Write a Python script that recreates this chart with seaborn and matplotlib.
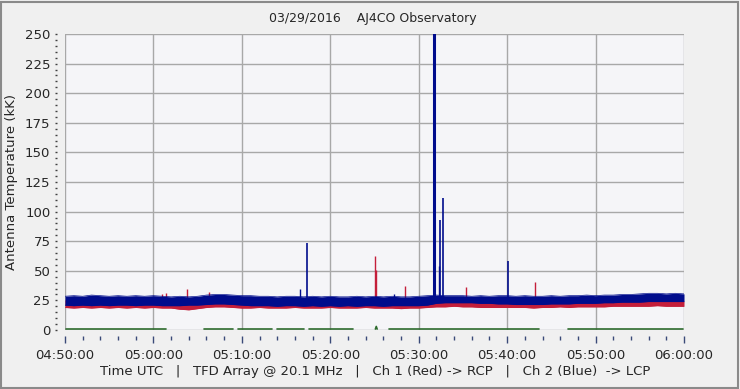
import numpy as np
import pandas as pd
import matplotlib
matplotlib.use("Agg")
import matplotlib.pyplot as plt
import seaborn as sns
from matplotlib.ticker import MultipleLocator, FixedLocator, FixedFormatter
from matplotlib.patches import Rectangle

# ---------------- data (minutes after 04:50:00 UTC) ----------------
minutes = list(range(71))

blue_hi = [28.5, 29, 28.5, 29.5, 29, 28.5, 29, 28.5, 29, 28.5,
           29, 28.5, 28, 28.5, 28, 28.5, 29.5, 30, 30, 29.5,
           29, 29, 28.5, 28.5, 28, 28.5, 28.5, 28, 28.5, 28,
           28.5, 28, 28, 28.5, 28, 28.5, 28, 28.5, 28, 28,
           28.5, 29, 29.5, 29, 29, 29, 28.5, 29, 28.5, 29,
           29, 28.5, 29, 28.5, 28.5, 29, 28.5, 29, 29, 29.5,
           29, 29.5, 29.5, 30, 30, 30.5, 31, 31, 30.5, 31,
           30.5]
blue_lo = [21, 20.5, 21, 20.5, 21, 20.5, 21, 21, 20.5, 21,
           21, 20.5, 20.5, 20.5, 21, 21, 21.5, 22, 22, 21.5,
           21, 20.5, 20.5, 20.5, 20, 20.5, 20.5, 20, 20.5, 20,
           20.5, 20, 20.5, 20, 20.5, 20.5, 20, 20.5, 20.5, 20.5,
           20.5, 21, 22.5, 23, 23, 23, 23, 22.5, 22.5, 22,
           22, 21.5, 21.5, 21.5, 21.5, 22, 22, 22, 22.5, 22.5,
           22.5, 23, 23, 23.5, 23.5, 23.5, 24, 24, 24, 24,
           24]
red_hi = [24.5, 24, 24.5, 24, 24.5, 24, 24.5, 24, 24.5, 24,
          24.5, 24, 24, 23.5, 23.5, 24, 24.5, 25, 25, 24.5,
          24, 24, 24.5, 24, 24, 24, 24.5, 24, 24, 24,
          24.5, 24, 24, 24, 24.5, 24, 24, 24, 23.5, 24,
          24, 24, 23.5, 23.5, 24, 23.5, 23.5, 23.5, 23.5, 23.5,
          23.5, 23.5, 23.5, 23, 23.5, 23.5, 24, 23.5, 24, 24,
          24, 24, 24.5, 24.5, 24.5, 24.5, 24.5, 25, 24.5, 24.5,
          24.5]
red_lo = [19, 18.5, 19, 18.5, 19, 18.5, 19, 18.5, 19, 18.5,
          19, 18.5, 18.5, 17.5, 17, 18, 19, 19.5, 19.5, 19,
          18.5, 18.5, 19, 18.5, 18.5, 18.5, 19, 18.5, 18.5, 18.5,
          19, 18.5, 18.5, 18.5, 19, 18.5, 18.5, 18.5, 18, 18.5,
          18.5, 19, 19.5, 19.5, 20, 19.5, 19.5, 19, 19, 19,
          19, 19, 19, 18.5, 19, 19, 19.5, 19, 19.5, 19.5,
          19.5, 19.5, 20, 20, 20, 20, 20, 20.5, 20, 20,
          20]

# isolated spikes (time in minutes after 04:50, peak in kK)
blue_spike_t = [26.6, 27.33, 37.2, 41.69, 41.84, 42.33, 42.44, 42.78, 50.13]
blue_spike_v = [35, 73.5, 30, 260, 67.5, 54, 93, 111.5, 58.5]
red_spike_t = [10.94, 11.46, 13.83, 16.32, 35.09, 35.2, 38.48, 45.38, 53.18]
red_spike_v = [30.4, 31.5, 34.6, 32.4, 62.5, 50.7, 37, 36, 40.3]

# channel 3 (green) segments near zero
green_start = [0.1, 15.7, 19.6, 24.0, 27.6, 35.1, 36.6, 56.9]
green_end = [11.4, 19.0, 23.4, 27.0, 32.6, 35.3, 53.6, 69.9]
green_level = [0.8, 0.8, 0.8, 0.8, 0.8, 3.0, 0.8, 0.8]

x_tick_labels = ["04:50:00", "05:00:00", "05:10:00", "05:20:00",
                 "05:30:00", "05:40:00", "05:50:00", "06:00:00"]
title = "03/29/2016    AJ4CO Observatory"
ylabel = "Antenna Temperature (kK)"
footer = "Time UTC   |   TFD Array @ 20.1 MHz   |   Ch 1 (Red) -> RCP   |   Ch 2 (Blue)  -> LCP"

# ---------------- styling ----------------
BLUE = "#000C8C"
RED = "#C41E3A"
GREEN = "#2E6B2E"
GRID = "#A8A8A8"
FIG_BG = "#F0F0F0"
AX_BG = "#F5F5F8"

sns.set_style("white")
plt.rcParams['font.family'] = ['DejaVu Sans']
FS = 9.5

fig = plt.figure(figsize=(7.4, 3.89), dpi=100, facecolor=FIG_BG)
ax = fig.add_axes([65 / 740, 1 - 330 / 389, 619 / 740, 296 / 389])
ax.set_facecolor(AX_BG)
ax.set_axisbelow(True)

df_red = pd.DataFrame({"t": minutes, "lo": red_lo, "hi": red_hi})
df_blue = pd.DataFrame({"t": minutes, "lo": blue_lo, "hi": blue_hi})

# red band (drawn first)
ax.fill_between(df_red["t"], df_red["lo"], df_red["hi"], color=RED, lw=0, zorder=2)
sns.lineplot(data=df_red, x="t", y="lo", color=RED, lw=0.5, ax=ax, zorder=2)
sns.lineplot(data=df_red, x="t", y="hi", color=RED, lw=0.5, ax=ax, zorder=2)
ax.vlines(red_spike_t, 24, red_spike_v, color=RED, lw=1.0, zorder=2)

# blue band on top
ax.fill_between(df_blue["t"], df_blue["lo"], df_blue["hi"], color=BLUE, lw=0, zorder=3)
sns.lineplot(data=df_blue, x="t", y="lo", color=BLUE, lw=0.5, ax=ax, zorder=3)
sns.lineplot(data=df_blue, x="t", y="hi", color=BLUE, lw=0.5, ax=ax, zorder=3)
bw = [1.0, 1.2, 1.0, 2.2, 1.2, 1.0, 1.2, 1.2, 1.2]
ax.vlines(blue_spike_t, 26, blue_spike_v, color=BLUE, lw=bw, zorder=3)

# green segments
g_rows = []
for i, (s, e, lv) in enumerate(zip(green_start, green_end, green_level)):
    g_rows.append({"t": s, "v": lv if lv < 2 else 0.8, "seg": i})
    if lv >= 2:
        g_rows.append({"t": (s + e) / 2, "v": lv, "seg": i})
    g_rows.append({"t": e, "v": lv if lv < 2 else 0.8, "seg": i})
df_g = pd.DataFrame(g_rows)
sns.lineplot(data=df_g, x="t", y="v", units="seg", estimator=None,
             color=GREEN, lw=1.2, ax=ax, zorder=4)

# axes
ax.set_xlim(0, 70)
ax.set_ylim(0, 250)
ax.xaxis.set_major_locator(FixedLocator([0, 10, 20, 30, 40, 50, 60, 70]))
ax.xaxis.set_major_formatter(FixedFormatter(x_tick_labels))
ax.xaxis.set_minor_locator(MultipleLocator(2))
ax.yaxis.set_major_locator(MultipleLocator(25))
ax.yaxis.set_minor_locator(MultipleLocator(5))
ax.grid(True, which="major", color=GRID, lw=1.0)

for sp in ax.spines.values():
    sp.set_edgecolor("none")
ax.spines["left"].set_position(("outward", 6))
ax.spines["bottom"].set_position(("outward", 4))

TICK = "#3A4A78"
ax.tick_params(axis="x", which="both", bottom=True, top=False)
ax.tick_params(axis="y", which="both", left=True, right=False)
ax.tick_params(axis="x", which="major", direction="out", length=5, width=1,
               color=TICK, labelsize=FS, pad=5)
ax.tick_params(axis="x", which="minor", direction="out", length=3, width=1, color=TICK)
ax.tick_params(axis="y", which="both", direction="out", length=1.5, width=1,
               color="#404040", labelsize=FS, pad=3)

ax.set_xlabel("")
ax.set_ylabel(ylabel, fontsize=FS)
ax.yaxis.set_label_coords((18 - 65) / 619, 0.5)

fig.text(373 / 740, 1 - 18.5 / 389, title, ha="center", va="center", fontsize=9)
fig.text(375 / 740, 1 - 372 / 389, footer, ha="center", va="center", fontsize=FS)

fig.patches.append(Rectangle((0.0015, 0.002), 0.996, 0.994, transform=fig.transFigure,
                             fill=False, edgecolor="#8A8A8A", lw=1.5))

fig.savefig("out.png", dpi=100, facecolor=FIG_BG)
